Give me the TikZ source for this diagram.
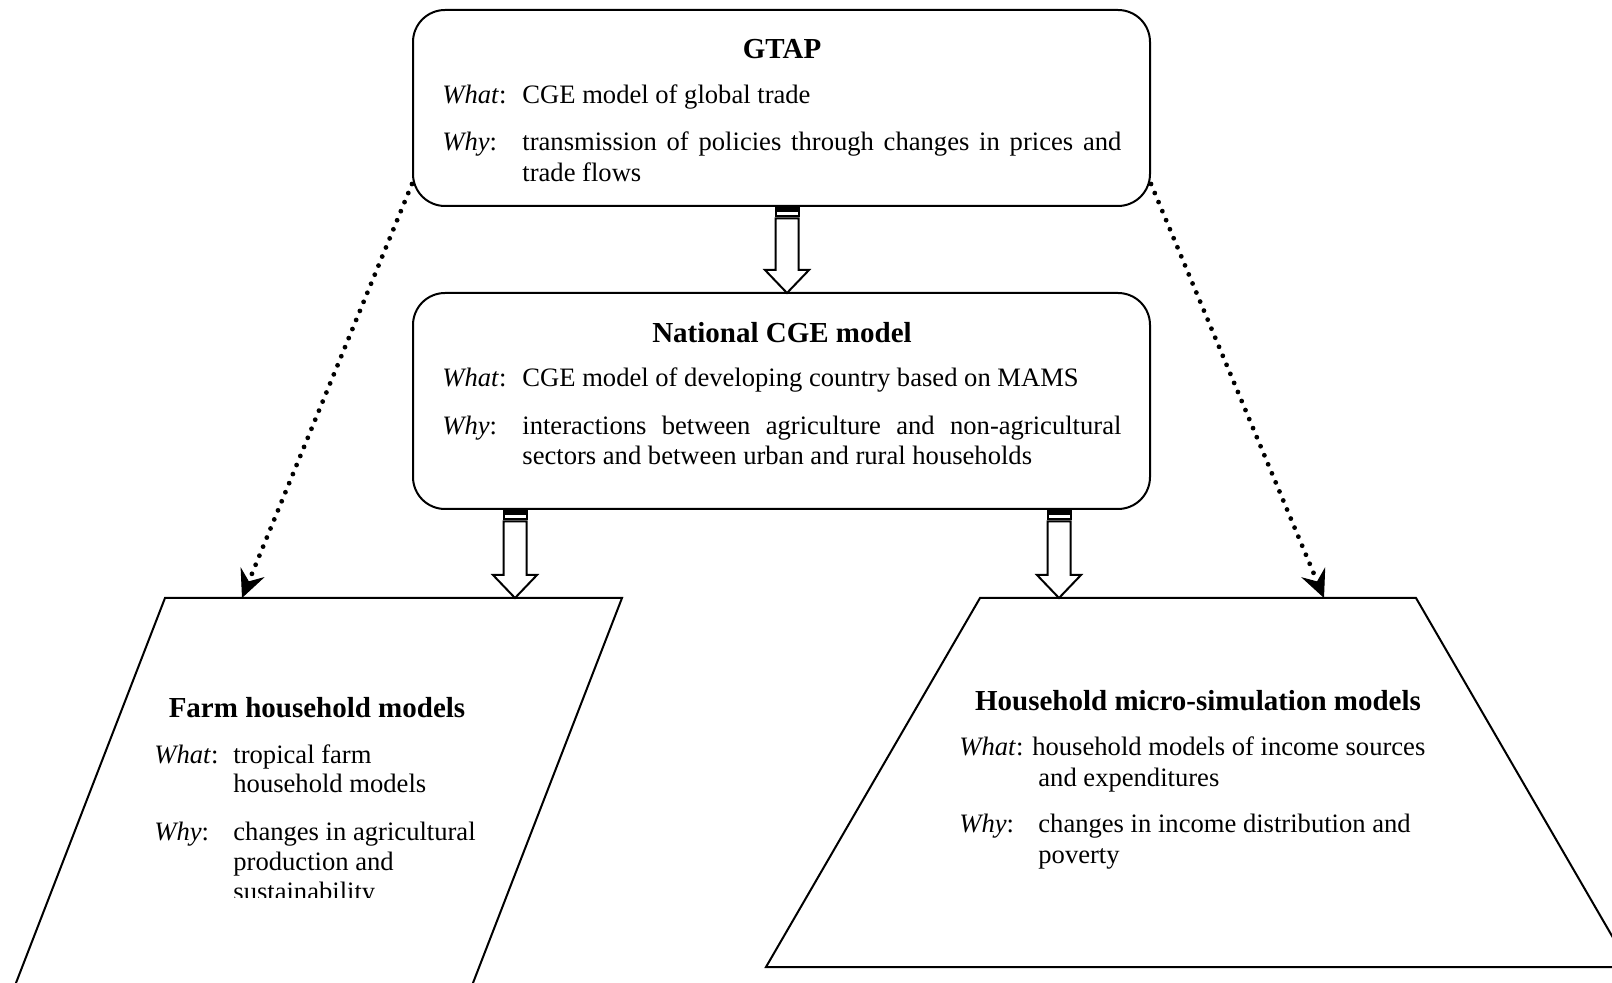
\documentclass[tikz,border=0pt]{standalone}
\usepackage{fontspec}
\setmainfont{Liberation Serif}
\usetikzlibrary{arrows.meta,calc}
\newcommand\blockarrow[2]{%
  \draw[blkline,fill=gray!55] ($(#1)+(-11.5,1)$) rectangle ($(#1)+(11.5,3.5)$);
  \draw[blkline,fill=white] ($(#1)+(-11.5,5.5)$) rectangle ($(#1)+(11.5,10.5)$);
  \draw[blkline,fill=white] ($(#1)+(-11.5,12.5)$) -- ($(#2)+(-11.5,-23)$) -- ($(#2)+(-22,-23)$) -- (#2)
    -- ($(#2)+(22,-23)$) -- ($(#2)+(11.5,-23)$) -- ($(#1)+(11.5,12.5)$) -- cycle;
}
\begin{document}
\begin{tikzpicture}[x=0.5pt,y=-0.5pt,
  box/.style={draw,line width=1pt,rounded corners=16pt,inner sep=0pt},
  shapeline/.style={line width=1pt,line join=miter},
  blkline/.style={line width=1pt,line join=miter},
  txt/.style={anchor=base west,inner sep=0pt,font=\fontsize{13.3}{15.5}\selectfont},
  ttl/.style={anchor=base,inner sep=0pt,font=\fontsize{14.5}{17}\selectfont\bfseries},
  dotarrow/.style={line width=2.4pt,line cap=round,dash pattern=on 0pt off 4.9pt,
    -{Stealth[length=14pt,width=13pt,inset=5pt,line width=0.5pt]}}]
\useasboundingbox (0,0) rectangle (1612,983);
\clip (0,0) rectangle (1612,983);

% boxes
\node[box,minimum width=368.5pt,minimum height=98pt] (gtap) at (781.5,108) {};
\node[box,minimum width=368.5pt,minimum height=108pt] (cge) at (781.5,401) {};

% GTAP text
\node[ttl] (gtapT) at (782,59) {GTAP};
\node[txt] (gtapWa) at (442,104) {\textit{What}:};
\node[txt] (gtapWb) at (522,104) {CGE model of global trade};
\node[txt] (gtapYa) at (442,151) {\textit{Why}:};
\node[txt] (gtapYb) at (522,151) {\makebox[299.5pt][s]{transmission of policies through changes in prices and}};
\node[txt] (gtapYc) at (522,182) {trade flows};

% National CGE text
\node[ttl] (cgeT) at (782,343) {National CGE model};
\node[txt] (cgeWa) at (442,387) {\textit{What}:};
\node[txt] (cgeWb) at (522,387) {CGE model of developing country based on MAMS};
\node[txt] (cgeYa) at (442,435) {\textit{Why}:};
\node[txt] (cgeYb) at (522,435) {\makebox[299.5pt][s]{interactions between agriculture and non-agricultural}};
\node[txt] (cgeYc) at (522,465) {sectors and between urban and rural households};

% lower shapes
\draw[shapeline] (165,598) -- (622,598) -- (466.4,1000) -- (9.4,1000) -- cycle;
\draw[shapeline] (980,598) -- (1416,598) -- (1630,967) -- (766,967) -- cycle;
\coordinate (farmA) at (242,598);
\coordinate (farmB) at (515,598);
\coordinate (hhA) at (1059,598);
\coordinate (hhB) at (1324,598);

% Farm text
\node[ttl] (farmT) at (317,718) {Farm household models};
\node[txt] (farmWa) at (154,763) {\textit{What}:};
\node[txt] (farmWb) at (233,763) {tropical farm};
\node[txt] (farmWc) at (233,792) {household models};
\node[txt] (farmYa) at (154,840) {\textit{Why}:};
\node[txt] (farmYb) at (233,840) {changes in agricultural};
\node[txt] (farmYc) at (233,870) {production and};
\begin{scope}
\clip (150,860) rectangle (600,897);
\node[txt] (farmYd) at (233,900) {sustainability};
\end{scope}

% Household text
\node[ttl] (hhT) at (1198,711) {Household micro-simulation models};
\node[txt] (hhWa) at (959,755) {\textit{What}: household models of income sources};
\node[txt] (hhWc) at (1038,786) {and expenditures};
\node[txt] (hhYa) at (959,832) {\textit{Why}:};
\node[txt] (hhYb) at (1038,832) {changes in income distribution and};
\node[txt] (hhYc) at (1038,863) {poverty};

% block arrows
\coordinate (a1s) at (787,206);
\coordinate (a1e) at (787,293);
\blockarrow{a1s}{a1e}
\coordinate (a2s) at (515,509);
\blockarrow{a2s}{farmB}
\coordinate (a3s) at (1059,509);
\blockarrow{a3s}{hhA}

% dotted arrows
\draw[dotarrow] ([yshift=11.5pt]gtap.south west) -- (farmA);
\draw[dotarrow] ([yshift=11.5pt]gtap.south east) -- (hhB);
\end{tikzpicture}
\end{document}
